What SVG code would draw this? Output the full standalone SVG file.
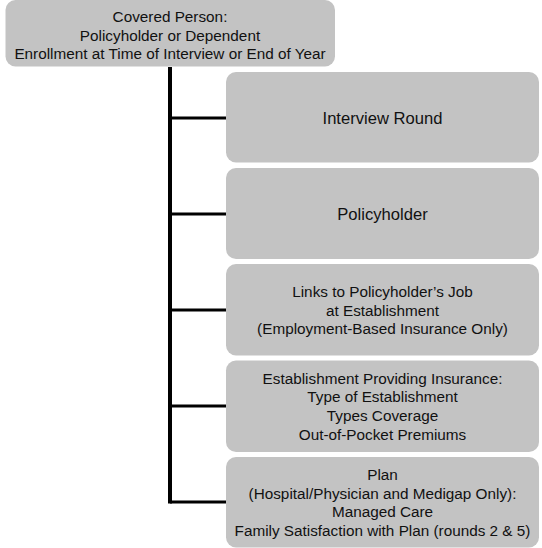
<svg xmlns="http://www.w3.org/2000/svg" width="542" height="548" viewBox="0 0 542 548">
<style>
.box{fill:#c3c3c3;}
.t{font-family:"Liberation Sans",Arial,sans-serif;font-size:15.3px;fill:#111;text-anchor:middle;}
.tb{font-family:"Liberation Sans",Arial,sans-serif;font-size:16.6px;fill:#111;text-anchor:middle;}
.c{stroke:#000;fill:none;}
</style>
<rect width="542" height="548" fill="#fff"/>
<g id="connectors">
<line class="c" x1="170" y1="67" x2="170" y2="503.5" stroke-width="4"/>
<line class="c" x1="170" y1="118" x2="226" y2="118" stroke-width="3"/>
<line class="c" x1="170" y1="214" x2="226" y2="214" stroke-width="3"/>
<line class="c" x1="170" y1="310" x2="226" y2="310" stroke-width="3"/>
<line class="c" x1="170" y1="406" x2="226" y2="406" stroke-width="3"/>
<line class="c" x1="170" y1="502" x2="226" y2="502" stroke-width="3"/>
</g>
<g id="covered-person">
<rect class="box" x="5.5" y="0" width="329.5" height="66.5" rx="10" ry="10"/>
<text class="t" x="170" y="22">Covered Person:</text>
<text class="t" x="170" y="40.5">Policyholder or Dependent</text>
<text class="t" x="170" y="59">Enrollment at Time of Interview or End of Year</text>
</g>
<g id="interview-round">
<rect class="box" x="226" y="72" width="313" height="90.5" rx="10" ry="10"/>
<text class="tb" x="382.5" y="124">Interview Round</text>
</g>
<g id="policyholder">
<rect class="box" x="226" y="168" width="313" height="91" rx="10" ry="10"/>
<text class="tb" x="382.5" y="220">Policyholder</text>
</g>
<g id="links">
<rect class="box" x="226" y="264" width="313" height="91.5" rx="10" ry="10"/>
<text class="t" x="382.5" y="297">Links to Policyholder’s Job</text>
<text class="t" x="382.5" y="315.5">at Establishment</text>
<text class="t" x="382.5" y="334">(Employment-Based Insurance Only)</text>
</g>
<g id="establishment">
<rect class="box" x="226" y="360.5" width="313" height="91.5" rx="10" ry="10"/>
<text class="t" x="382.5" y="383.5">Establishment Providing Insurance:</text>
<text class="t" x="382.5" y="402.2">Type of Establishment</text>
<text class="t" x="382.5" y="420.9">Types Coverage</text>
<text class="t" x="382.5" y="439.6">Out-of-Pocket Premiums</text>
</g>
<g id="plan">
<rect class="box" x="226" y="457" width="313" height="90.5" rx="10" ry="10"/>
<text class="t" x="382.5" y="480">Plan</text>
<text class="t" x="382.5" y="498.7">(Hospital/Physician and Medigap Only):</text>
<text class="t" x="382.5" y="517.3">Managed Care</text>
<text class="t" x="382.5" y="536">Family Satisfaction with Plan (rounds 2 &amp; 5)</text>
</g>
</svg>
